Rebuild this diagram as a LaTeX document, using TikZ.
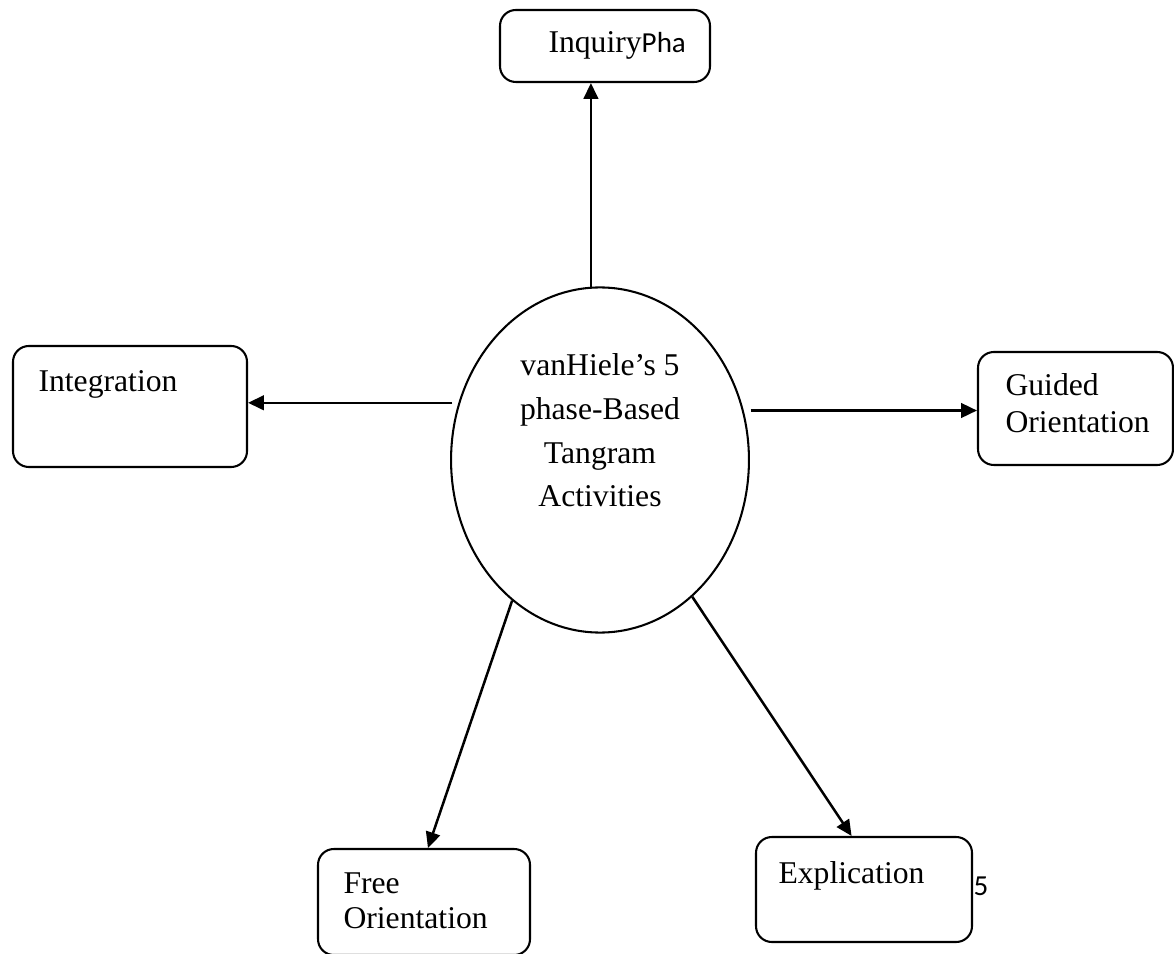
\documentclass[tikz,border=0pt]{standalone}
\usepackage{fontspec}
\setmainfont{Liberation Serif}
\newfontfamily\calib{Carlito}
\usetikzlibrary{shapes.geometric,arrows.meta,fit}
\begin{document}
\begin{tikzpicture}[x=0.379pt,y=-0.379pt,
  box/.style={draw, line width=0.78pt, rounded corners=6pt, inner sep=0pt},
  txt/.style={inner sep=0pt, font=\fontsize{12pt}{13.8pt}\selectfont},
  arr/.style={line width=0.95pt, -{Triangle[length=6pt,width=5.5pt]}}
]
\useasboundingbox (0,0) rectangle (1174,954);
% boxes
\node[box, fit={(500,10) (710,82)}] (top) {};
\node[box, fit={(13,346) (247,467)}] (integ) {};
\node[box, fit={(978,352) (1173,465)}] (guided) {};
\node[box, fit={(318,849) (530,955)}] (free) {};
\node[box, fit={(756,837) (972,942)}] (expl) {};
% centre ellipse
\node[ellipse, draw, line width=0.78pt, inner sep=0pt,
      minimum width=112.9pt, minimum height=130.8pt] (ell) at (600,460) {};
\node[txt, align=center, anchor=north, font=\fontsize{12pt}{16.5pt}\selectfont] (etext) at (600,353.5)
  {vanHiele’s 5\\phase-Based\\Tangram\\Activities};
% box texts
\node[txt, anchor=base west] (ttop) at (548,53) {Inquiry{\calib\fontsize{11pt}{13pt}\selectfont Pha}};
\node[txt, anchor=base west] (tinteg) at (38,392) {Integration};
\node[txt, anchor=north west, align=left, font=\fontsize{12pt}{14pt}\selectfont] (tguided) at (1005,373.5) {Guided\\Orientation};
\node[txt, anchor=north west, align=left, font=\fontsize{12pt}{13.3pt}\selectfont] (tfree) at (343,872) {Free\\Orientation};
\node[txt, anchor=base west] (texpl) at (778,883) {Explication};
\node[txt, anchor=base west, font=\calib\fontsize{11pt}{13pt}\selectfont] (pnum) at (973,895) {5};
% connectors
\draw[arr] (ell.93) -- (ell.93 |- top.south);
\draw[arr, shorten <=2.3pt] (ell.158) -- (ell.158 -| integ.east);
\draw[arr, shorten <=2.6pt] (ell.19) -- (ell.19 -| guided.west);
\draw[arr] (ell.238) -- ([xshift=1.5pt]free.north);
\draw[arr] (ell.304) -- ([xshift=-4.7pt]expl.north);
\end{tikzpicture}
\end{document}
